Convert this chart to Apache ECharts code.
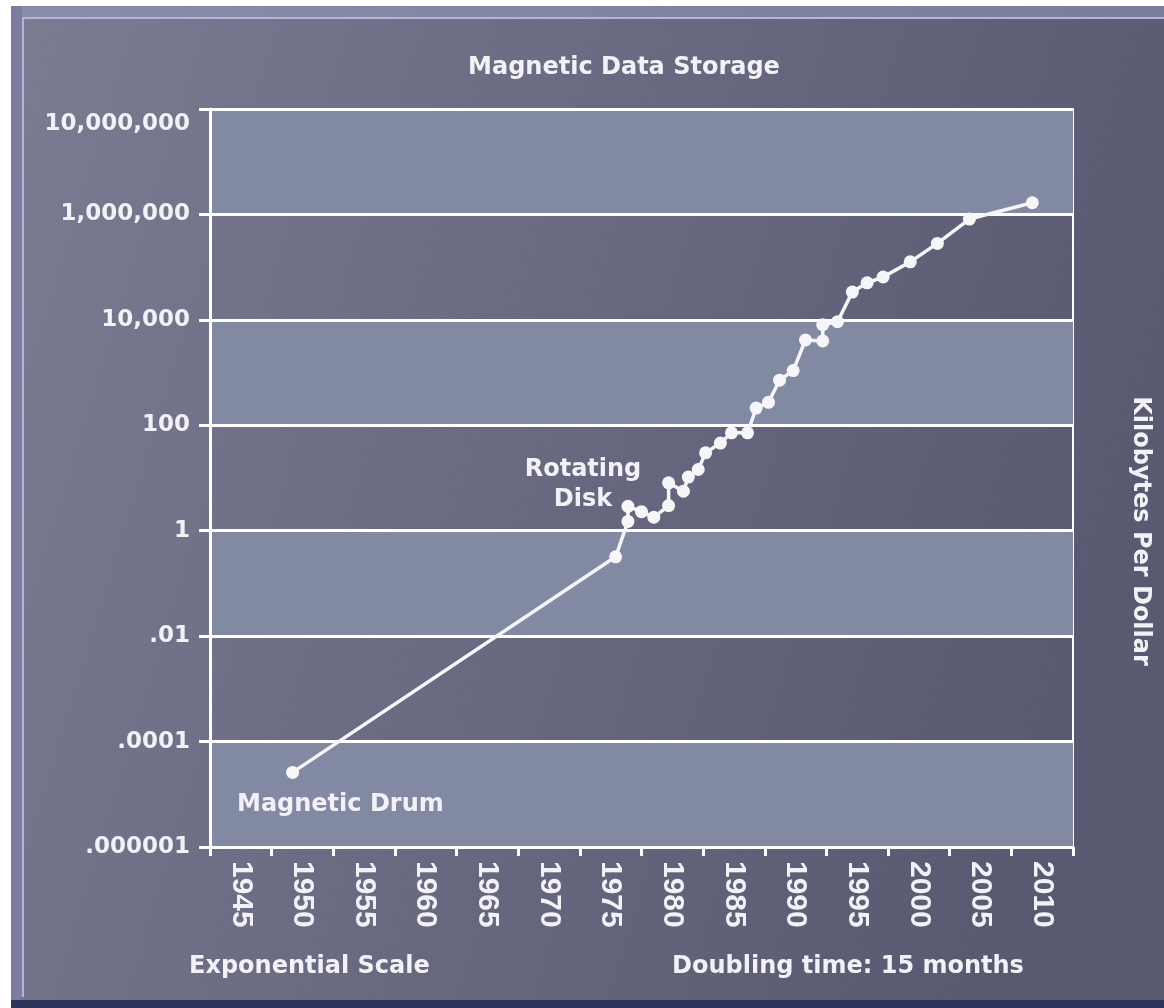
<!DOCTYPE html>
<html>
<head>
<meta charset="utf-8">
<style>
  html, body { margin: 0; padding: 0; background: #ffffff; }
  #chart { width: 1164px; height: 1008px; }
</style>
<script src="https://cdn.jsdelivr.net/npm/echarts@6/dist/echarts.min.js"></script>
</head>
<body>
<div id="chart"></div>
<script>
// ---- Data ----
const years = [1949.2, 1975.4, 1976.4, 1976.4, 1977.5, 1978.5, 1979.7, 1979.7, 1980.9, 1981.3,
               1982.1, 1982.7, 1983.9, 1984.8, 1986.1, 1986.8, 1987.8, 1988.7, 1989.8, 1990.8,
               1992.2, 1992.2, 1993.4, 1994.6, 1995.8, 1997.1, 1999.3, 2001.5, 2004.1, 2009.2];
const kbPerDollar = [0.000026, 0.32, 1.5, 2.9, 2.3, 1.8, 3.0, 8.1, 5.6, 10.4,
                     14.5, 30, 46, 72, 72, 212, 273, 716, 1090, 4150,
                     3980, 8100, 9200, 33700, 50500, 65000, 126000, 282000, 817000, 1290000];
const xTickLabels = ['1945','1950','1955','1960','1965','1970','1975','1980','1985','1990','1995','2000','2005','2010'];
const yTickLabels = ['.000001','.0001','.01','1','100','10,000','1,000,000','10,000,000'];

// Axis band index: each band below 1,000,000 spans two decades, the top band spans one.
function toPos(v) {
  const l = Math.log10(v);
  return l <= 6 ? l / 2 + 3 : 6 + (l - 6);
}

const FONT = "'DejaVu Sans', 'Liberation Sans', sans-serif";
const TXT = '#f2f2f6';

const chart = echarts.init(document.getElementById('chart'), null, { renderer: 'canvas' });

const option = {
  backgroundColor: '#ffffff',
  animation: false,
  graphic: [
    { type: 'rect', z: -100, shape: { x: 11, y: 6, width: 1153, height: 1002 },
      style: { fill: new echarts.graphic.LinearGradient(0, 0, 1, 0.35, [
        { offset: 0, color: '#7b7b92' }, { offset: 1, color: '#585a72' }]) } },
    { type: 'rect', z: -99, shape: { x: 11, y: 6, width: 1153, height: 11 },
      style: { fill: new echarts.graphic.LinearGradient(0, 0, 1, 0, [
        { offset: 0, color: '#8a8ca9' }, { offset: 1, color: '#7a7d9c' }]) } },
    { type: 'rect', z: -99, shape: { x: 11, y: 6, width: 11, height: 994 },
      style: { fill: '#7c7ca1' } },
    { type: 'rect', z: -98, shape: { x: 22, y: 17, width: 1142, height: 2 },
      style: { fill: '#b3b6d3' } },
    { type: 'rect', z: -98, shape: { x: 22, y: 17, width: 2, height: 980 },
      style: { fill: '#b3b6d3' } },
    { type: 'rect', z: -97, shape: { x: 11, y: 1000, width: 1153, height: 8 },
      style: { fill: '#2c3459' } },

    { type: 'text', z: 100, style: { text: 'Magnetic Data Storage', x: 624, y: 68,
      fill: TXT, font: "bold 24px " + FONT, align: 'center', verticalAlign: 'middle' } },
    { type: 'text', z: 100, style: { text: 'Exponential Scale', x: 189, y: 967,
      fill: TXT, font: "bold 24px " + FONT, align: 'left', verticalAlign: 'middle' } },
    { type: 'text', z: 100, style: { text: 'Doubling time: 15 months', x: 672, y: 967,
      fill: TXT, font: "bold 24px " + FONT, align: 'left', verticalAlign: 'middle' } },
    { type: 'text', z: 100, x: 1140, y: 531, rotation: -Math.PI / 2,
      style: { text: 'Kilobytes Per Dollar', x: 0, y: 0,
      fill: TXT, font: "bold 24px " + FONT, align: 'center', verticalAlign: 'middle' } },
    { type: 'text', z: 100, style: { text: 'Magnetic Drum', x: 237, y: 805,
      fill: TXT, font: "bold 24px " + FONT, align: 'left', verticalAlign: 'middle' } },
    { type: 'text', z: 100, style: { text: 'Rotating\nDisk', x: 583, y: 485, lineHeight: 30,
      fill: TXT, font: "bold 24px " + FONT, align: 'center', verticalAlign: 'middle' } }
  ],
  grid: {
    left: 210, right: 91, top: 109, bottom: 161,
    show: true, borderColor: '#ffffff', borderWidth: 2, backgroundColor: 'transparent'
  },
  xAxis: [
    { type: 'value', min: 1942.5, max: 2012.5, show: false },
    { type: 'category', data: xTickLabels, boundaryGap: true, position: 'bottom',
      axisLine: { lineStyle: { color: '#ffffff', width: 3 } },
      axisTick: { show: true, length: 9, lineStyle: { color: '#ffffff', width: 3 } },
      axisLabel: { rotate: -90, color: TXT, fontFamily: "'Liberation Sans Narrow', 'Liberation Sans', sans-serif",
        fontSize: 30, fontWeight: 'bold', margin: 14, interval: 0 },
      splitLine: { show: false } }
  ],
  yAxis: {
    type: 'value', min: 0, max: 7, interval: 1,
    axisLine: { show: true, lineStyle: { color: '#ffffff', width: 3 } },
    axisTick: { show: true, length: 11, lineStyle: { color: '#ffffff', width: 3 } },
    axisLabel: {
      color: TXT, fontFamily: FONT, fontSize: 23, fontWeight: 'bold', margin: 20, lineHeight: 30,
      formatter: function (v) { return v === 7 ? '\n' + yTickLabels[v] : yTickLabels[v]; }
    },
    splitLine: { show: true, lineStyle: { color: '#ffffff', width: 3 } },
    splitArea: { show: true, areaStyle: { color: ['#8189a3', 'rgba(0,0,0,0)'] } }
  },
  series: [{
    type: 'line', xAxisIndex: 0, yAxisIndex: 0,
    data: years.map((y, i) => [y, toPos(kbPerDollar[i])]),
    symbol: 'circle', symbolSize: 13, z: 5,
    lineStyle: { color: '#f6f6f8', width: 3.5 },
    itemStyle: { color: '#f6f6f8' }
  }]
};
chart.setOption(option);
</script>
</body>
</html>
